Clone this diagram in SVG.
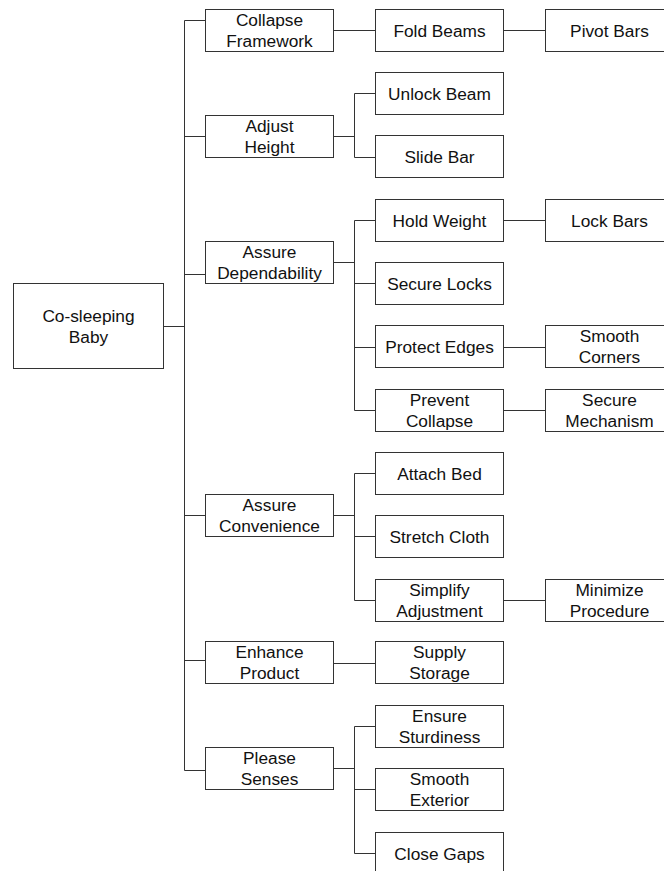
<svg xmlns="http://www.w3.org/2000/svg" width="664" height="871" viewBox="0 0 664 871">
<style>
rect{fill:#fff;stroke:#333;stroke-width:1}
#connectors path{fill:none;stroke:#333;stroke-width:1}
text{font-family:"Liberation Sans",Arial,sans-serif;font-size:17.3px;fill:#111;text-anchor:middle}
</style>
<rect x="0" y="0" width="664" height="871" style="fill:#fff;stroke:none"/>
<g id="connectors">
<path d="M184.5 20.5V770.5M163.5 326.5H184.5M184.5 20.5H205.5M184.5 136.5H205.5M184.5 274.5H205.5M184.5 515.5H205.5M184.5 660.5H205.5M184.5 770.5H205.5"/>
<path d="M333.5 30.5H375.5M503.5 30.5H545.5"/>
<path d="M333.5 136.5H354.5M354.5 93.5V157.5M354.5 93.5H375.5M354.5 157.5H375.5"/>
<path d="M333.5 262.5H354.5M354.5 220.5V410.5M354.5 220.5H375.5M354.5 283.5H375.5M354.5 347.5H375.5M354.5 410.5H375.5M503.5 220.5H545.5M503.5 347.5H545.5M503.5 410.5H545.5"/>
<path d="M333.5 515.5H354.5M354.5 473.5V600.5M354.5 473.5H375.5M354.5 536.5H375.5M354.5 600.5H375.5M503.5 600.5H545.5"/>
<path d="M333.5 663.5H375.5"/>
<path d="M333.5 768.5H354.5M354.5 726.5V853.5M354.5 726.5H375.5M354.5 789.5H375.5M354.5 853.5H375.5"/>
</g>
<g id="root"><rect x="13.5" y="283.5" width="150" height="85"/><text x="88.5" y="322">Co-sleeping</text><text x="88.5" y="343">Baby</text></g>
<g id="collapse-framework"><rect x="205.5" y="9.5" width="128" height="42"/><text x="269.5" y="26">Collapse</text><text x="269.5" y="47">Framework</text></g>
<g id="adjust-height"><rect x="205.5" y="115.5" width="128" height="42"/><text x="269.5" y="132">Adjust</text><text x="269.5" y="153">Height</text></g>
<g id="assure-dependability"><rect x="205.5" y="241.5" width="128" height="42"/><text x="269.5" y="258">Assure</text><text x="269.5" y="279">Dependability</text></g>
<g id="assure-convenience"><rect x="205.5" y="494.5" width="128" height="42"/><text x="269.5" y="511">Assure</text><text x="269.5" y="532">Convenience</text></g>
<g id="enhance-product"><rect x="205.5" y="641.5" width="128" height="42"/><text x="269.5" y="658">Enhance</text><text x="269.5" y="679">Product</text></g>
<g id="please-senses"><rect x="205.5" y="747.5" width="128" height="42"/><text x="269.5" y="764">Please</text><text x="269.5" y="785">Senses</text></g>
<g id="fold-beams"><rect x="375.5" y="9.5" width="128" height="42"/><text x="439.5" y="36.5">Fold Beams</text></g>
<g id="pivot-bars"><rect x="545.5" y="9.5" width="128" height="42"/><text x="609.5" y="36.5">Pivot Bars</text></g>
<g id="unlock-beam"><rect x="375.5" y="72.5" width="128" height="42"/><text x="439.5" y="99.5">Unlock Beam</text></g>
<g id="slide-bar"><rect x="375.5" y="135.5" width="128" height="42"/><text x="439.5" y="162.5">Slide Bar</text></g>
<g id="hold-weight"><rect x="375.5" y="199.5" width="128" height="42"/><text x="439.5" y="226.5">Hold Weight</text></g>
<g id="lock-bars"><rect x="545.5" y="199.5" width="128" height="42"/><text x="609.5" y="226.5">Lock Bars</text></g>
<g id="secure-locks"><rect x="375.5" y="262.5" width="128" height="42"/><text x="439.5" y="289.5">Secure Locks</text></g>
<g id="protect-edges"><rect x="375.5" y="325.5" width="128" height="42"/><text x="439.5" y="352.5">Protect Edges</text></g>
<g id="smooth-corners"><rect x="545.5" y="325.5" width="128" height="42"/><text x="609.5" y="342">Smooth</text><text x="609.5" y="363">Corners</text></g>
<g id="prevent-collapse"><rect x="375.5" y="389.5" width="128" height="42"/><text x="439.5" y="406">Prevent</text><text x="439.5" y="427">Collapse</text></g>
<g id="secure-mechanism"><rect x="545.5" y="389.5" width="128" height="42"/><text x="609.5" y="406">Secure</text><text x="609.5" y="427">Mechanism</text></g>
<g id="attach-bed"><rect x="375.5" y="452.5" width="128" height="42"/><text x="439.5" y="479.5">Attach Bed</text></g>
<g id="stretch-cloth"><rect x="375.5" y="515.5" width="128" height="42"/><text x="439.5" y="542.5">Stretch Cloth</text></g>
<g id="simplify-adjustment"><rect x="375.5" y="579.5" width="128" height="42"/><text x="439.5" y="596">Simplify</text><text x="439.5" y="617">Adjustment</text></g>
<g id="minimize-procedure"><rect x="545.5" y="579.5" width="128" height="42"/><text x="609.5" y="596">Minimize</text><text x="609.5" y="617">Procedure</text></g>
<g id="supply-storage"><rect x="375.5" y="641.5" width="128" height="42"/><text x="439.5" y="658">Supply</text><text x="439.5" y="679">Storage</text></g>
<g id="ensure-sturdiness"><rect x="375.5" y="705.5" width="128" height="42"/><text x="439.5" y="722">Ensure</text><text x="439.5" y="743">Sturdiness</text></g>
<g id="smooth-exterior"><rect x="375.5" y="768.5" width="128" height="42"/><text x="439.5" y="785">Smooth</text><text x="439.5" y="806">Exterior</text></g>
<g id="close-gaps"><rect x="375.5" y="832.5" width="128" height="42"/><text x="439.5" y="859.5">Close Gaps</text></g>
</svg>
